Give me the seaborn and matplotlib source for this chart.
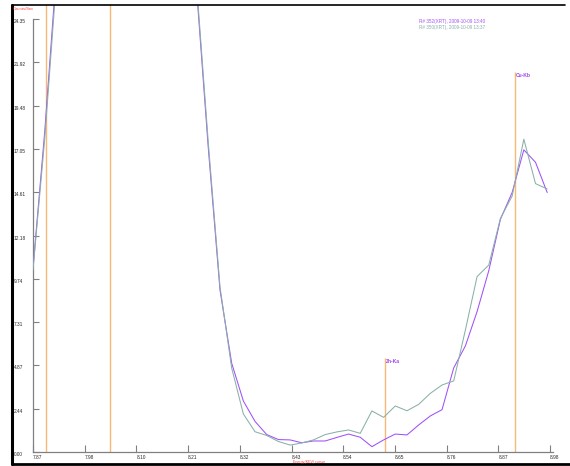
import numpy as np
import pandas as pd
import seaborn as sns
import matplotlib.pyplot as plt
from matplotlib.lines import Line2D

sns.set_style("white")
plt.rcParams["font.family"] = ["Liberation Sans", "DejaVu Sans"]

# spectrum channels (keV)
energy = [7.874, 7.899, 7.924, 7.949, 7.974, 7.999, 8.024, 8.049, 8.074, 8.099,
          8.124, 8.149, 8.174, 8.199, 8.224, 8.249, 8.274, 8.299, 8.324, 8.349,
          8.374, 8.399, 8.424, 8.449, 8.474, 8.499, 8.524, 8.549, 8.574, 8.599,
          8.624, 8.649, 8.674, 8.699, 8.724, 8.749, 8.774, 8.799, 8.824, 8.849,
          8.874, 8.899, 8.924, 8.949, 8.974]
# counts/sec, R# 352 (purple)
run_352 = [10.35, 18.0, 27.0, 36, 48, 62, 80, 96, 88, 70,
           55, 44, 36, 30, 26.0, 17.1, 9.12, 5.0, 2.87, 1.72,
           0.98, 0.70, 0.68, 0.52, 0.62, 0.62, 0.82, 1.01, 0.83, 0.30,
           0.68, 1.01, 0.96, 1.52, 2.03, 2.38, 4.73, 5.97, 7.9, 10.2,
           13.1, 14.6, 17.0, 16.3, 14.6]
# counts/sec, R# 350 (grey)
run_350 = [10.25, 17.6, 26.5, 35, 47, 61, 79, 95, 87, 69,
           54, 43, 35, 30, 26.3, 17.4, 9.3, 4.73, 2.14, 1.14,
           0.93, 0.59, 0.39, 0.51, 0.68, 0.98, 1.13, 1.24, 1.05, 2.31,
           1.95, 2.59, 2.32, 2.68, 3.30, 3.77, 4.0, 6.87, 9.87, 10.52,
           13.15, 14.4, 17.6, 15.1, 14.8]
runs = ["R# 352(XRT), 2009-10-09 13:40", "R# 350(XRT), 2009-10-09 13:37"]
colors = ["#a050f8", "#8ab0a8"]

# element marker lines
marker_energy = [7.902, 8.039, 8.627, 8.905]
marker_height = [30, 30, 5.29, 21.4]
marker_label = ["", "", "Zn-Ka", "Cu-Kb"]

xtick_labels = ["7.87", "7.98", "8.10", "8.21", "8.32", "8.43", "8.54", "8.65", "8.76", "8.87", "8.98"]
ytick_vals = [0.00, 2.44, 4.87, 7.31, 9.74, 12.18, 14.61, 17.05, 19.48, 21.92, 24.35]

df = pd.concat([pd.DataFrame({"energy": energy, "cps": run_352, "run": runs[0]}),
                pd.DataFrame({"energy": energy, "cps": run_350, "run": runs[1]})])

W, H = 570, 466
fig = plt.figure(figsize=(W / 100, H / 100), dpi=100)
ax = fig.add_axes([33 / W, 1 - 452 / H, 520 / W, 447 / H])

for e, h in zip(marker_energy, marker_height):
    ax.vlines(e, 0, h, color="#f8b878", lw=1.0, zorder=1)
for e, h, lab in zip(marker_energy, marker_height, marker_label):
    if lab:
        ax.text(e + 0.002, h - 0.05, lab, color="#9a40f0", fontsize=3.6,
                fontweight="bold", ha="left", va="top")

sns.lineplot(data=df, x="energy", y="cps", hue="run", palette=colors,
             estimator=None, sort=False, lw=0.75, legend=False, ax=ax, zorder=3)

ax.set_xlim(7.874, 8.9864)
ax.set_ylim(0, 25.15)
ax.set_xticks(np.linspace(7.874, 8.98, len(xtick_labels)), xtick_labels)
ax.set_yticks(ytick_vals, [f"{v:.2f}" for v in ytick_vals])
ax.tick_params(axis="x", direction="in", length=5, width=0.8, color="#808080",
               labelsize=3.4, pad=2.5, bottom=True)
ax.tick_params(axis="y", direction="in", length=4.3, width=0.8, color="#808080",
               labelsize=3.4, pad=13.7, left=True)
for lab in ax.get_xticklabels():
    lab.set_ha("left")
for lab in ax.get_yticklabels():
    lab.set_ha("left")
    lab.set_va("top")
ax.set_xlabel("")
ax.set_ylabel("")
for s in ["top", "right"]:
    ax.spines[s].set_visible(False)
for s in ["left", "bottom"]:
    ax.spines[s].set_color("#808080")
    ax.spines[s].set_linewidth(0.9)
ax.spines["left"].set_bounds(0, 24.35)
ax.patch.set_alpha(0)

# outer frame
fig.add_artist(Line2D([12 / W, 12 / W], [1 - 5 / H, 1 - 464 / H], color="black", lw=2.2))
fig.add_artist(Line2D([12 / W, 565 / W], [1 - 5 / H, 1 - 5 / H], color="black", lw=1.2))
fig.add_artist(Line2D([12 / W, 1], [1 - 463.8 / H, 1 - 463.8 / H], color="black", lw=2.0))

fig.text(13 / W, 1 - 9 / H, "Counts/Sec", color="#ff4040", fontsize=3.0, ha="left", va="center")
fig.text(293 / W, 1 - 462 / H, "Energy(KEV) cursor", color="#ff4040", fontsize=2.6, ha="left", va="center")
for i, (r, c) in enumerate(zip(runs, colors)):
    fig.text(419 / W, 1 - (22 + 5.5 * i) / H, r, color=c, fontsize=3.3, ha="left", va="center")

fig.savefig("out.png", dpi=100)
